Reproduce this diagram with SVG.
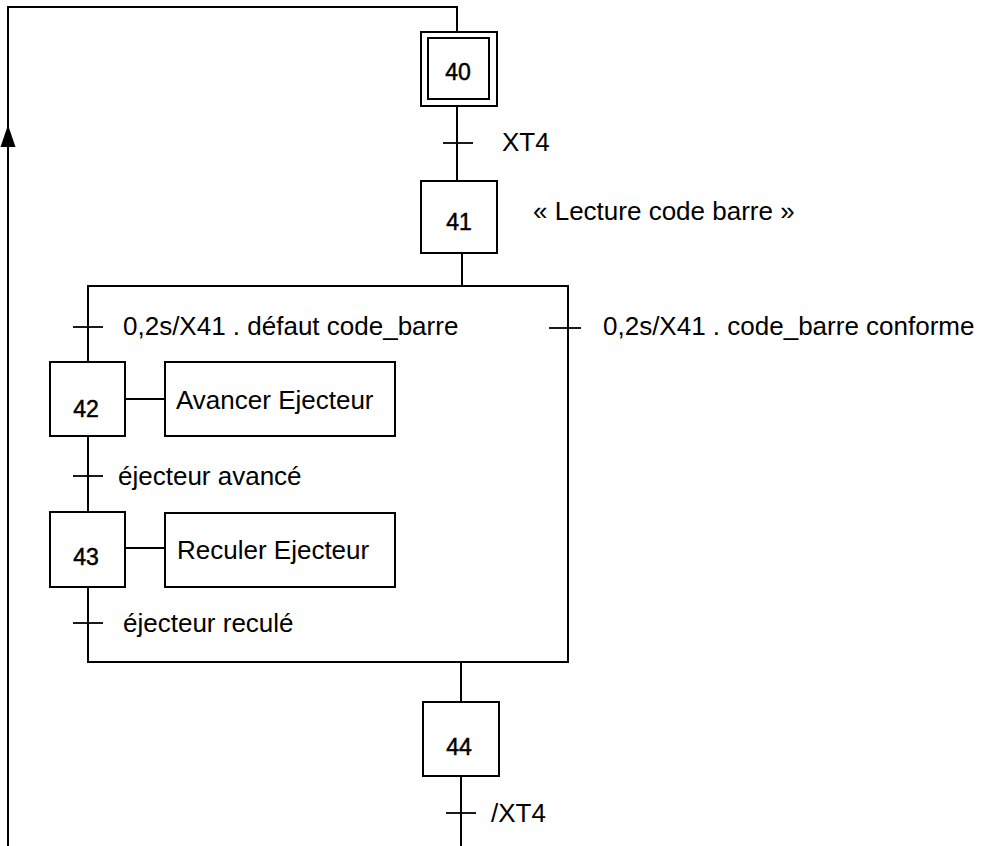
<svg xmlns="http://www.w3.org/2000/svg" width="986" height="846" viewBox="0 0 986 846">
  <style>
    .ln { fill: none; stroke: #000; stroke-width: 2; }
    .tk { fill: none; stroke: #000; stroke-width: 1.8; }
    .bx { fill: #fff; stroke: #000; stroke-width: 2; }
    .lbl { font-family: "Liberation Sans", Arial, sans-serif; font-size: 26px; fill: #000; }
    .num { font-family: "Liberation Sans", Arial, sans-serif; font-size: 23px; fill: #000; stroke: #000; stroke-width: 0.5; text-anchor: middle; }
  </style>
  <rect width="986" height="846" fill="#fff"/>

  <!-- connectors: links, loop-back line and the frame around both branches -->
  <g id="connectors">
    <!-- loop back from the bottom to step 40 -->
    <path class="ln" d="M8 846 V7 H457 V32"/>
    <path d="M8 125 L15.5 147 L0.5 147 Z" fill="#000"/>
    <!-- 40 -> 41 -->
    <line class="ln" x1="457" y1="106" x2="457" y2="181"/>
    <line class="tk" x1="443" y1="143" x2="473" y2="143"/>
    <!-- 41 -> frame -->
    <line class="ln" x1="462" y1="253" x2="462" y2="286"/>
    <!-- frame of the two branches -->
    <path class="ln" d="M88 362 V286 H568 V662 H88 V587"/>
    <!-- left branch ticks and links -->
    <line class="tk" x1="73" y1="327" x2="103" y2="327"/>
    <line class="ln" x1="88" y1="436" x2="88" y2="512"/>
    <line class="tk" x1="73" y1="476" x2="103" y2="476"/>
    <line class="tk" x1="73" y1="623" x2="103" y2="623"/>
    <!-- right branch tick -->
    <line class="tk" x1="549" y1="328" x2="581" y2="328"/>
    <!-- action links -->
    <line class="tk" x1="125" y1="399" x2="165" y2="399"/>
    <line class="tk" x1="125" y1="548" x2="165" y2="548"/>
    <!-- frame -> 44 -> bottom -->
    <line class="ln" x1="461" y1="662" x2="461" y2="702"/>
    <line class="ln" x1="461" y1="776" x2="461" y2="846"/>
    <line class="tk" x1="446" y1="813" x2="476" y2="813"/>
  </g>

  <!-- transition conditions -->
  <g id="conditions">
    <text class="lbl" x="502" y="151">XT4</text>
    <text class="lbl" x="123" y="335">0,2s/X41 . défaut code_barre</text>
    <text class="lbl" x="603" y="335">0,2s/X41 . code_barre conforme</text>
    <text class="lbl" x="118" y="485">éjecteur avancé</text>
    <text class="lbl" x="123" y="632">éjecteur reculé</text>
    <text class="lbl" x="491" y="822">/XT4</text>
  </g>

  <!-- steps -->
  <g id="step40">
    <rect class="bx" x="421" y="32" width="76" height="74"/>
    <rect class="bx" x="428" y="38" width="61" height="61"/>
    <text class="num" x="458" y="80">40</text>
  </g>
  <g id="step41">
    <rect class="bx" x="421" y="181" width="76" height="72"/>
    <text class="num" x="459" y="230">41</text>
    <text class="lbl" x="533" y="220">« Lecture code barre »</text>
  </g>
  <g id="step42">
    <rect class="bx" x="50" y="362" width="75" height="74"/>
    <text class="num" x="86" y="417">42</text>
  </g>
  <g id="action42">
    <rect class="bx" x="165" y="362" width="230" height="74"/>
    <text class="lbl" x="176" y="409">Avancer Ejecteur</text>
  </g>
  <g id="step43">
    <rect class="bx" x="50" y="512" width="75" height="75"/>
    <text class="num" x="86" y="565">43</text>
  </g>
  <g id="action43">
    <rect class="bx" x="165" y="513" width="230" height="74"/>
    <text class="lbl" x="177" y="559">Reculer Ejecteur</text>
  </g>
  <g id="step44">
    <rect class="bx" x="423" y="702" width="76" height="74"/>
    <text class="num" x="459" y="755">44</text>
  </g>
</svg>
